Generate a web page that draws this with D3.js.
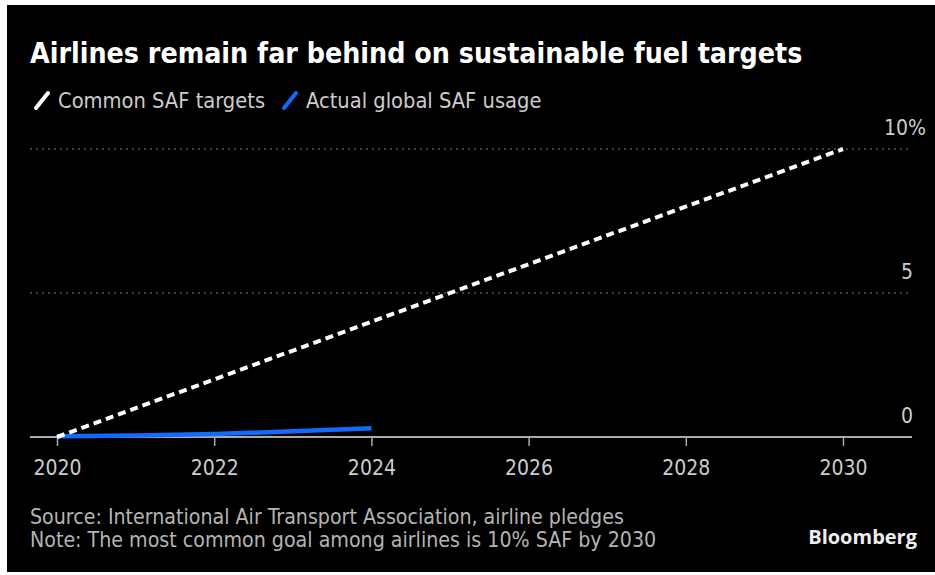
<!DOCTYPE html>
<html>
<head>
<meta charset="utf-8">
<script src="https://cdn.jsdelivr.net/npm/d3@7"></script>
<style>
  html, body { margin: 0; padding: 0; background: #fff; }
  svg { display: block; }
  .cond { font-family: "DejaVu Sans Condensed", "DejaVu Sans", sans-serif; font-stretch: condensed; }
</style>
</head>
<body>
<svg id="chart" width="935" height="575"></svg>
<script>
// data
const targetYears = [2020, 2030];
const targetValues = [0, 10];
const usageYears = [2020, 2021, 2022, 2023, 2024];
const usageValues = [0.03, 0.05, 0.1, 0.2, 0.3];
const xTicks = [2020, 2022, 2024, 2026, 2028, 2030];
const yTicks = [0, 5, 10];

const svg = d3.select("#chart");

// black panel with white margin like the screenshot
svg.append("rect")
  .attr("x", 7).attr("y", 5)
  .attr("width", 928).attr("height", 567)
  .attr("fill", "#000");

const x = d3.scaleLinear().domain([2020, 2030]).range([57, 843]);
const y = d3.scaleLinear().domain([0, 10]).range([437, 149]);

// title
svg.append("text")
  .attr("class", "cond")
  .attr("x", 30).attr("y", 63)
  .attr("fill", "#fff")
  .attr("font-size", 28.3)
  .attr("font-weight", "bold")
  .text("Airlines remain far behind on sustainable fuel targets");

// legend
const legend = [
  { label: "Common SAF targets", color: "#fff", x: 35 },
  { label: "Actual global SAF usage", color: "#0f6cff", x: 283 }
];
const lg = svg.append("g").selectAll("g").data(legend).join("g")
  .attr("transform", d => `translate(${d.x},100)`);
lg.append("line")
  .attr("x1", 1).attr("y1", 8).attr("x2", 13).attr("y2", -7)
  .attr("stroke", d => d.color).attr("stroke-width", 4).attr("stroke-linecap", "round");
lg.append("text")
  .attr("class", "cond")
  .attr("x", 23).attr("y", 8)
  .attr("fill", "#ccc")
  .attr("font-size", 21.7)
  .text(d => d.label);

// gridlines
svg.append("g").selectAll("line")
  .data(yTicks.filter(d => d > 0))
  .join("line")
  .attr("x1", 30).attr("x2", 912)
  .attr("y1", d => y(d)).attr("y2", d => y(d))
  .attr("stroke", "#555").attr("stroke-width", 1.5)
  .attr("stroke-dasharray", "2,4");

// y labels on the right; the top one carries the unit
svg.append("g").selectAll("text")
  .data(yTicks)
  .join("text")
  .attr("class", "cond")
  .attr("x", d => d === 10 ? 926 : 913)
  .attr("y", d => y(d) - 14)
  .attr("text-anchor", "end")
  .attr("fill", "#ccc")
  .attr("font-size", 21)
  .text(d => d === 10 ? "10%" : d);

// x axis
const xAxis = svg.append("g")
  .attr("transform", `translate(0,${y(0)})`)
  .call(d3.axisBottom(x).tickValues(xTicks).tickFormat(d3.format("d")).tickSize(9).tickPadding(14));
xAxis.select(".domain").remove();
xAxis.insert("line", ":first-child")
  .attr("x1", 30).attr("x2", 912)
  .attr("stroke", "#aaa").attr("stroke-width", 2);
xAxis.selectAll(".tick line").attr("stroke", "#aaa").attr("stroke-width", 1.5);
xAxis.selectAll(".tick text")
  .attr("class", "cond")
  .attr("fill", "#ccc")
  .attr("font-size", 21);

const line = d3.line().x(d => x(d[0])).y(d => y(d[1]));

// actual usage
svg.append("path")
  .datum(d3.zip(usageYears, usageValues))
  .attr("d", line)
  .attr("fill", "none")
  .attr("stroke", "#0f6cff")
  .attr("stroke-width", 4.5);

// targets
svg.append("path")
  .datum(d3.zip(targetYears, targetValues))
  .attr("d", line)
  .attr("fill", "none")
  .attr("stroke", "#fff")
  .attr("stroke-width", 4)
  .attr("stroke-dasharray", "8,5");

// footer
const notes = [
  "Source: International Air Transport Association, airline pledges",
  "Note: The most common goal among airlines is 10% SAF by 2030"
];
svg.append("g").selectAll("text")
  .data(notes)
  .join("text")
  .attr("class", "cond")
  .attr("x", 30).attr("y", (d, i) => 524 + i * 23)
  .attr("fill", "#b4b4b4")
  .attr("font-size", 21.2)
  .text(d => d);

svg.append("text")
  .attr("x", 917).attr("y", 544)
  .attr("text-anchor", "end")
  .attr("fill", "#eee")
  .attr("font-family", "Open Sans, sans-serif")
  .attr("font-weight", "bold")
  .attr("font-size", 20)
  .text("Bloomberg");
</script>
</body>
</html>
